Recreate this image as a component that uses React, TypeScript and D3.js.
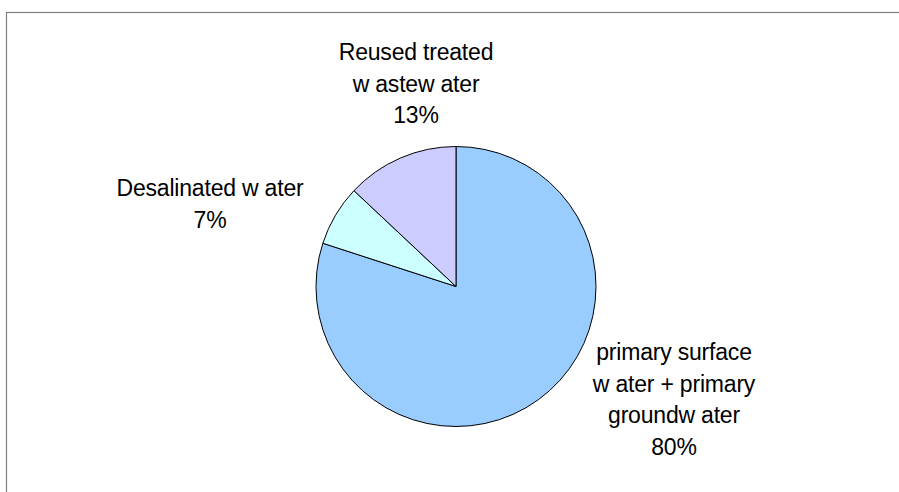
import React, { useRef, useEffect } from "react";
import * as d3 from "d3";

// slices, clockwise from 12 o'clock
const categories = ["primary", "desalinated", "reused"];
const values = [80, 7, 13];
const labelLines = [
  ["primary surface", "w ater + primary", "groundw ater", "80%"],
  ["Desalinated w ater", "7%"],
  ["Reused treated", "w astew ater", "13%"],
];
const colors = ["#99CCFF", "#CCFFFF", "#CCCCFF"];

const App = () => {
  const svgRef = useRef<SVGSVGElement>(null);

  useEffect(() => {
    const svg = d3.select(svgRef.current);
    svg.selectAll("*").remove();

    const width = 899,
      height = 492,
      cx = 456,
      cy = 286.5,
      radius = 140,
      lineHeight = 31.5;

    // chart area border (left and top visible only)
    svg
      .append("rect")
      .attr("x", 6.5)
      .attr("y", 12.5)
      .attr("width", width + 20)
      .attr("height", height + 20)
      .attr("fill", "white")
      .attr("stroke", "#808080")
      .attr("stroke-width", 1.2);

    const data = categories.map((c, i) => ({ name: c, value: values[i] }));
    const pie = d3
      .pie<{ name: string; value: number }>()
      .sort(null)
      .value((d) => d.value);
    const arc = d3
      .arc<d3.PieArcDatum<{ name: string; value: number }>>()
      .innerRadius(0)
      .outerRadius(radius);

    const g = svg.append("g").attr("transform", `translate(${cx},${cy})`);
    g.selectAll("path")
      .data(pie(data))
      .enter()
      .append("path")
      .attr("d", arc)
      .attr("fill", (d, i) => colors[i])
      .attr("stroke", "#000")
      .attr("stroke-width", 1);

    // label anchors (first baseline), placed like the original
    const anchors = [
      { x: 674, y: 360 },
      { x: 210, y: 196 },
      { x: 416, y: 60 },
    ];

    labelLines.forEach((lines, i) => {
      const t = svg
        .append("text")
        .attr("text-anchor", "middle")
        .style("font-family", "'Liberation Sans', Arial, sans-serif")
        .style("font-size", "23px")
        .style("letter-spacing", "-0.2px")
        .attr("fill", "#000");
      lines.forEach((line, j) => {
        t.append("tspan")
          .attr("x", anchors[i].x)
          .attr("y", anchors[i].y + j * lineHeight)
          .text(line);
      });
    });
  }, []);

  return (
    <svg
      ref={svgRef}
      width={899}
      height={492}
      style={{ position: "absolute", left: 0, top: 0, display: "block" }}
    ></svg>
  );
};

export default App;
